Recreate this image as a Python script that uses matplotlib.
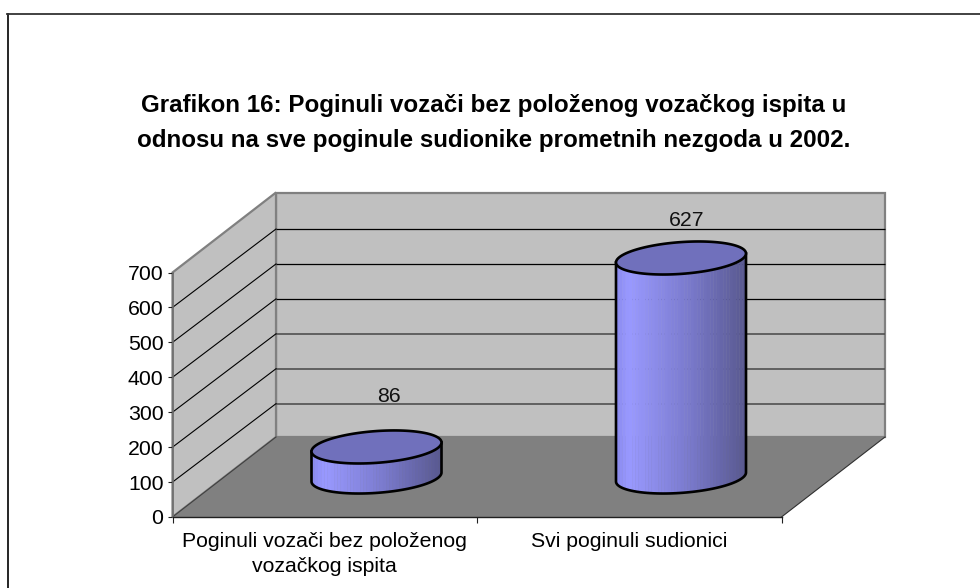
import numpy as np
import matplotlib
matplotlib.use("Agg")
import matplotlib.pyplot as plt
from matplotlib.patches import Polygon
from matplotlib.colors import LinearSegmentedColormap

# ---- data ----
categories = ["Poginuli vozači bez položenog\nvozačkog ispita", "Svi poginuli sudionici"]
values = [86, 627]
y_ticks = [0, 100, 200, 300, 400, 500, 600, 700]
title = ("Grafikon 16: Poginuli vozači bez položenog vozačkog ispita u\n"
         "odnosu na sve poginule sudionike prometnih nezgoda u 2002.")

# ---- layout / style ----
W, H = 980, 588
plt.rcParams["font.family"] = ["Liberation Sans", "DejaVu Sans"]
L, R, T, B = 172.5, 781.5, 272.5, 517.0   # front plane of the plot, pixels
DEPTH_X, DEPTH_Y = 103.5, 80.0            # oblique depth vector, pixels
GRID_DROP = 1.6                           # back gridlines sit this many pixels low
ELL_A, ELL_B, ELL_TILT = 65.0, 15.9, 4.5  # cylinder ellipse, pixels
LABEL_OFFSETS = [(12, 50), (6, 37)]
FS = 15.3

fig = plt.figure(figsize=(W / 100, H / 100), dpi=100, facecolor="white")
ax = fig.add_axes([L / W, 1 - B / H, (R - L) / W, (B - T) / H])
ax.set_xlim(0, len(categories))
ax.set_ylim(y_ticks[0], y_ticks[-1])
ax.patch.set_visible(False)

sx = len(categories) / (R - L)        # data units per pixel
sy = (y_ticks[-1] - y_ticks[0]) / (B - T)


def proj(x, v, d=0.0):
    """Category/value position at depth d (0 front .. 1 back), in data units."""
    return x + d * DEPTH_X * sx, v + d * DEPTH_Y * sy


xmax, vmax = len(categories), y_ticks[-1]
WALL, FLOOR, EDGE = "#C0C0C0", "#808080", "#808080"
pts = lambda seq: [proj(*p) for p in seq]

# walls and floor
ax.add_patch(Polygon(pts([(0, 0, 1), (xmax, 0, 1), (xmax, vmax, 1), (0, vmax, 1)]),
                     fc=WALL, ec=EDGE, lw=1.6, clip_on=False, zorder=1))
ax.add_patch(Polygon(pts([(0, 0, 0), (0, 0, 1), (0, vmax, 1), (0, vmax, 0)]),
                     fc=WALL, ec=EDGE, lw=1.6, clip_on=False, zorder=1))
ax.add_patch(Polygon(pts([(0, 0, 0), (xmax, 0, 0), (xmax, 0, 1), (0, 0, 1)]),
                     fc=FLOOR, ec="none", clip_on=False, zorder=1.1))
for a, b, c, lw in [((0, 0, 0), (0, 0, 1), "#404040", 0.8),
                    ((xmax, 0, 0), (xmax, 0, 1), "#303030", 0.8)]:
    xs, ys = zip(*pts([a, b]))
    ax.plot(xs, ys, color=c, lw=lw, clip_on=False, zorder=1.2)

# gridlines on the walls
for v in y_ticks[1:-1]:
    col, lw = ("black", 0.9) if v >= 400 else ("#505050", 1.2)
    back = v - GRID_DROP * sy
    xs, ys = zip(*pts([(0, back, 1), (xmax, back, 1)]))
    ax.plot(xs, ys, color=col, lw=lw, clip_on=False, zorder=1.3, solid_capstyle="butt")
    x0, y0 = proj(0, v, 0)
    x1, y1 = proj(0, back, 1)
    ax.plot([x0, x1], [y0, y1], color="black", lw=0.8, clip_on=False, zorder=1.3)

# cylinders
shade = LinearSegmentedColormap.from_list(
    "cyl", [(0, "#8A8AEE"), (0.1, "#9999FF"), (0.55, "#7B7BCE"), (1, "#58588F")])


def ellipse(cx, v, t):
    cxp, vp = proj(cx, v, 0.5)
    return (cxp + ELL_A * sx * np.cos(t),
            vp + ELL_TILT * sy * np.cos(t) - ELL_B * sy * np.sin(t))


for i, val in enumerate(values):
    cx = i + 0.5
    edges = np.linspace(-1, 1, 41)
    ts = np.arccos(edges)            # pi .. 0, even steps in x
    for k in range(len(edges) - 1):
        tt = np.linspace(ts[k], ts[k + 1], 4)
        xb, yb = ellipse(cx, 0, tt)
        xt, yt = ellipse(cx, val, tt)
        ax.fill(np.r_[xb, xt[::-1]], np.r_[yb, yt[::-1]],
                color=shade((k + 0.5) / (len(edges) - 1)), lw=0.3,
                clip_on=False, zorder=3)
    t = np.linspace(np.pi, 0, 80)
    xb, yb = ellipse(cx, 0, t)
    xt, yt = ellipse(cx, val, t)
    ax.plot(np.r_[xt[0], xb, xt[-1]], np.r_[yt[0], yb, yt[-1]], color="black", lw=1.9,
            clip_on=False, zorder=4, solid_joinstyle="round")
    tf = np.linspace(0, 2 * np.pi, 160)
    xe, ye = ellipse(cx, val, tf)
    ax.fill(xe, ye, fc="#7070BC", ec="black", lw=1.9, clip_on=False, zorder=5)
    lx, ly = proj(cx, val, 0.5)
    ax.annotate(str(val), (lx, ly), xytext=LABEL_OFFSETS[i], textcoords="offset pixels",
                ha="center", va="center", fontsize=FS, color="#111111", zorder=6,
                annotation_clip=False)

# axes
for s in ("top", "right"):
    ax.spines[s].set_visible(False)
ax.spines["left"].set_color("#707070")
ax.spines["left"].set_linewidth(1.2)
ax.spines["bottom"].set_color("#202020")
ax.spines["bottom"].set_linewidth(1.0)
ax.set_yticks(y_ticks)
ax.tick_params(axis="y", length=3.5, width=0.8, color="#202020", pad=3, labelsize=FS)
ax.set_xticks(np.arange(len(categories) + 1))
ax.set_xticklabels([])
ax.tick_params(axis="x", which="major", length=4, width=0.8, color="#202020")
ax.set_xticks(np.arange(len(categories)) + 0.5, minor=True)
ax.set_xticklabels(categories, minor=True, fontsize=FS, linespacing=1.46)
ax.tick_params(axis="x", which="minor", length=0, pad=10.5)

# title and page border
fig.text(494 / W, 1 - 123 / H, title, ha="center", va="center", fontsize=17.4,
         fontweight="bold", linespacing=1.68, color="black")
fig.add_artist(plt.Line2D([7.5 / W, 7.5 / W], [0, 1 - 14 / H], color="black", lw=1.2))
fig.add_artist(plt.Line2D([7 / W, 1], [1 - 14 / H, 1 - 14 / H], color="#333333", lw=1.3))

fig.savefig("out.png", dpi=100, facecolor="white")
